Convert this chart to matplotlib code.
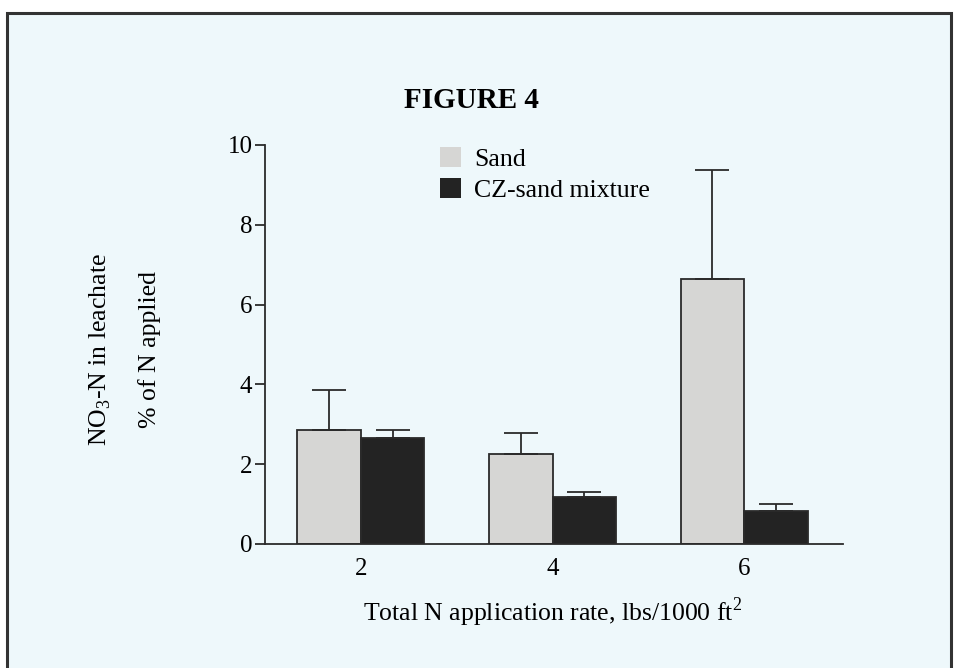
import matplotlib.pyplot as plt
import matplotlib.patches as mpatches
import numpy as np

# 字体：Times 风格
plt.rcParams['font.family'] = ['Liberation Serif', 'DejaVu Serif']
plt.rcParams['mathtext.fontset'] = 'custom'
plt.rcParams['mathtext.rm'] = 'Liberation Serif'

# 数据
rates = [2, 4, 6]
sand = [2.85, 2.25, 6.63]
sand_err = [1.0, 0.53, 2.75]
cz_sand = [2.65, 1.18, 0.83]
cz_sand_err = [0.2, 0.12, 0.17]
series_names = ['Sand', 'CZ-sand mixture']

bg_color = '#eef8fb'
sand_color = '#d6d6d4'
cz_color = '#232323'
edge = '#2a2a2a'

fig = plt.figure(figsize=(9.59, 6.68), dpi=100)
fig.patch.set_facecolor('white')

# 外框
frame = mpatches.Rectangle((7 / 959, -0.01), (951 - 7) / 959, 1 - 13 / 668 + 0.01,
                           transform=fig.transFigure, facecolor=bg_color,
                           edgecolor='#333333', linewidth=2.2, zorder=-10)
fig.patches.append(frame)

ax = fig.add_axes([265 / 959, 1 - 544 / 668, (843 - 265) / 959, (544 - 145) / 668])
ax.set_facecolor('none')
ax.set_zorder(5)

x = np.array(rates, dtype=float)
w = 0.663
err_kw = dict(ecolor=edge, elinewidth=1.3, capsize=12, capthick=1.3)
ax.bar(x - w / 2, sand, w, color=sand_color, edgecolor=edge, linewidth=1.3,
       yerr=[np.zeros(3), sand_err], error_kw=err_kw)
ax.bar(x + w / 2, cz_sand, w, color=cz_color, edgecolor=edge, linewidth=1.3,
       yerr=[np.zeros(3), cz_sand_err], error_kw=err_kw)

ax.set_xlim(1.0, 7.03)
ax.set_ylim(0, 10)
ax.set_yticks([0, 2, 4, 6, 8, 10])
ax.set_xticks(rates)
ax.spines['top'].set_visible(False)
ax.spines['right'].set_visible(False)
for s in ['left', 'bottom']:
    ax.spines[s].set_linewidth(1.3)
    ax.spines[s].set_color(edge)
ax.tick_params(axis='y', direction='out', length=7, width=1.3, color=edge, labelsize=18, pad=2)
ax.tick_params(axis='x', length=0, labelsize=18, pad=10)

# 图例色块无边框
handles = [mpatches.Patch(facecolor=sand_color, edgecolor='none', label=series_names[0]),
           mpatches.Patch(facecolor=cz_color, edgecolor='none', label=series_names[1])]
ax.legend(handles=handles, loc='upper left', bbox_to_anchor=(0.285, 1.022), frameon=False,
          fontsize=18.6, handlelength=0.82, handleheight=0.82, handletextpad=0.5,
          labelspacing=0.28, borderaxespad=0)

# 标题和轴标签
fig.text(471 / 959, 1 - 100 / 668, 'FIGURE 4', ha='center', va='center',
         fontsize=21, fontweight='bold')
fig.text(100 / 959, 1 - 350 / 668, 'NO$_3$-N in leachate', rotation=90,
         ha='center', va='center', fontsize=18.5)
fig.text(150 / 959, 1 - 349 / 668, '% of N applied', rotation=90,
         ha='center', va='center', fontsize=18.5)
fig.text(553 / 959, 1 - 612 / 668, 'Total N application rate, lbs/1000 ft$^{2}$',
         ha='center', va='center', fontsize=18.5)

fig.savefig('out.png', dpi=100)
